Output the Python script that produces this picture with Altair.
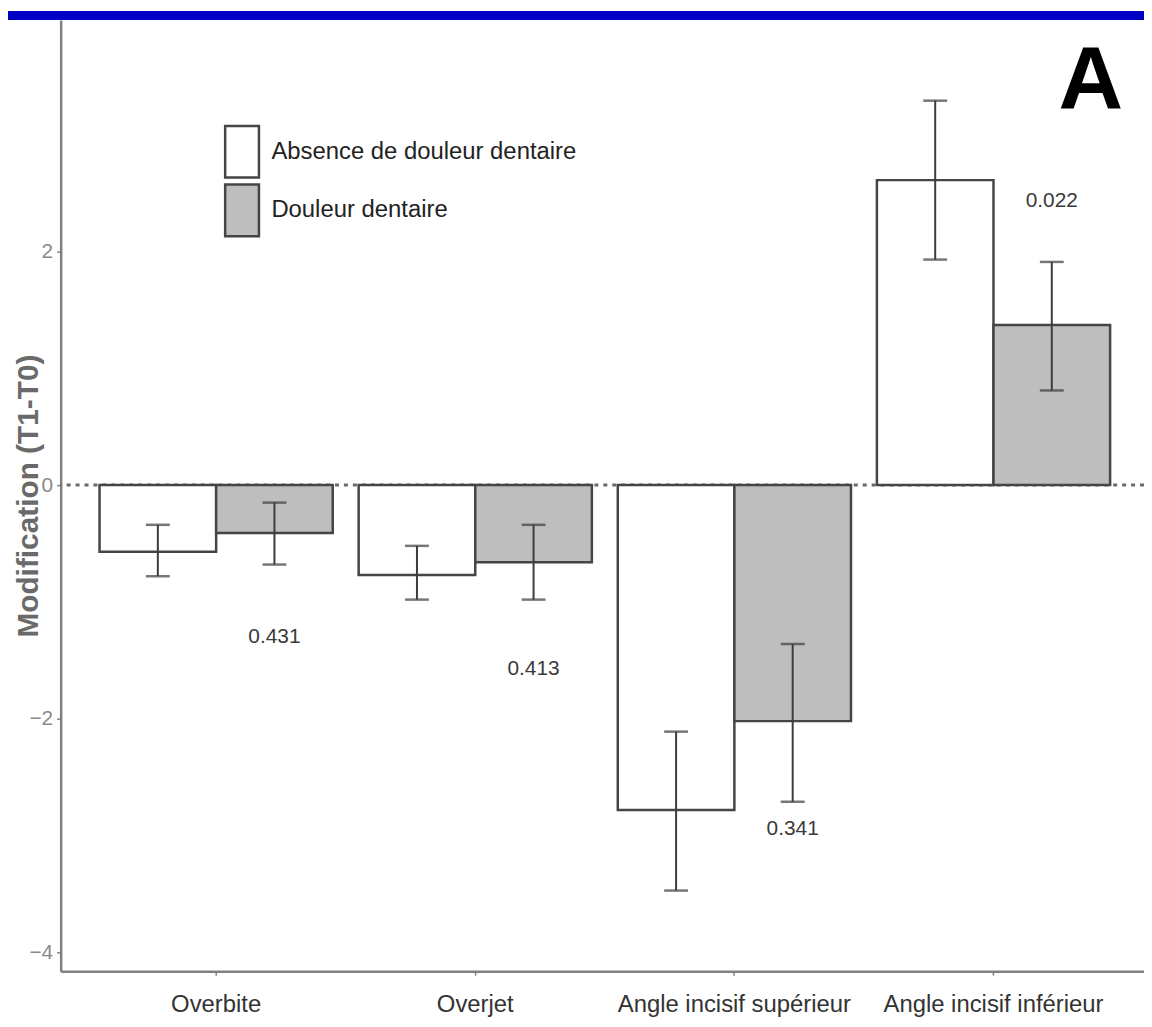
import altair as alt
import pandas as pd

# ---- data ----
categories = ["Overbite", "Overjet", "Angle incisif supérieur", "Angle incisif inférieur"]
groups = ["Absence de douleur dentaire", "Douleur dentaire"]
mean_absence = [-0.57, -0.77, -2.78, 2.61]
low_absence = [-0.78, -0.98, -3.47, 1.93]
high_absence = [-0.34, -0.52, -2.11, 3.29]
mean_douleur = [-0.41, -0.66, -2.02, 1.37]
low_douleur = [-0.68, -0.98, -2.71, 0.81]
high_douleur = [-0.15, -0.34, -1.36, 1.91]
p_values = ["0.431", "0.413", "0.341", "0.022"]
p_label_y = [-1.30, -1.57, -2.94, 2.43]
y_ticks = [-4, -2, 0, 2]
y_domain = [-4.16, 3.98]

rows = []
for i, c in enumerate(categories):
    rows.append(dict(cat=c, group=groups[0], mean=mean_absence[i], lo=low_absence[i], hi=high_absence[i]))
    rows.append(dict(cat=c, group=groups[1], mean=mean_douleur[i], lo=low_douleur[i], hi=high_douleur[i]))
df = pd.DataFrame(rows)
df_p = pd.DataFrame(dict(cat=categories, group=[groups[1]] * 4, p=p_values, py=p_label_y))

FONT = "Liberation Sans, Arial, sans-serif"
BLUE = "#0101C6"
W, H = 1090, 957

x_enc = alt.X(
    "cat:N", sort=categories,
    scale=alt.Scale(paddingInner=0.1, paddingOuter=0.15, range=[0, 1095]),
    axis=alt.Axis(title=None, labelAngle=0, labelFontSize=24, labelFont=FONT,
                  labelColor="#333333", domainColor="#808080", domainWidth=2.5,
                  tickColor="#808080", tickSize=4, tickWidth=1.5, labelPadding=18,
                  labelLimit=0, grid=False),
)
xo_enc = alt.XOffset("group:N", sort=groups,
                     scale=alt.Scale(domain=groups, paddingInner=0, paddingOuter=0))
y_scale = alt.Scale(domain=y_domain, nice=False, zero=False)
y_axis = alt.Axis(values=y_ticks, grid=False, labelFontSize=21, labelFont=FONT,
                  labelColor="#8a8a8a", domainColor="#808080", domainWidth=2.5,
                  tickColor="#808080", tickSize=4, tickWidth=1.5, labelPadding=4,
                  title="Modification (T1-T0)", titleFontSize=30, titleFontWeight="bold",
                  titleFont=FONT, titleColor="#6a6a6a",
                  titleX=-32, titleY=H / 2, titleAngle=270, titleAlign="center",
                  titleBaseline="middle")

base = alt.Chart(df)

frame = alt.Chart(pd.DataFrame({"k": [0]})).mark_rect(color=BLUE).encode(
    x=alt.value(-53), x2=alt.value(W), y=alt.value(-9), y2=alt.value(0)
)

zero = alt.Chart(pd.DataFrame({"z": [0]})).mark_rule(
    color="#6a6a6a", strokeWidth=3, strokeDash=[4, 5]
).encode(y=alt.Y("z:Q", scale=y_scale, axis=y_axis))

bars = base.mark_bar(stroke="#454545", strokeWidth=2.5).encode(
    x=x_enc, xOffset=xo_enc,
    y=alt.Y("mean:Q", scale=y_scale, axis=y_axis),
    y2=alt.datum(0),
    color=alt.Color(
        "group:N", sort=groups,
        scale=alt.Scale(domain=groups, range=["#FFFFFF", "#BEBEBE"]),
        legend=alt.Legend(
            title=None, orient="none", legendX=155, legendY=105,
            labelFontSize=24, labelFont=FONT, labelColor="#222222",
            labelOffset=2, rowPadding=-15, labelLimit=0,
            symbolType="M-0.654,-1H0.654V1H-0.654Z", symbolSize=2704,
            symbolStrokeColor="#454545", symbolStrokeWidth=2.5,
        ),
    ),
)

err = base.mark_rule(color="#3c3c3c", strokeWidth=2).encode(
    x=x_enc, xOffset=xo_enc, y=alt.Y("lo:Q", scale=y_scale, axis=y_axis), y2="hi:Q"
)
cap_lo = base.mark_tick(color="#3c3c3c", thickness=2.5, size=24).encode(
    x=x_enc, xOffset=xo_enc, y=alt.Y("lo:Q", scale=y_scale, axis=y_axis)
)
cap_hi = base.mark_tick(color="#3c3c3c", thickness=2.5, size=24).encode(
    x=x_enc, xOffset=xo_enc, y=alt.Y("hi:Q", scale=y_scale, axis=y_axis)
)

ptext = alt.Chart(df_p).mark_text(
    fontSize=21, font=FONT, color="#3a3a3a", baseline="middle", align="center"
).encode(
    x=x_enc, xOffset=xo_enc, y=alt.Y("py:Q", scale=y_scale, axis=y_axis), text="p:N"
)

chart = alt.layer(frame, zero, bars, err, cap_lo, cap_hi, ptext).properties(
    width=W, height=H,
    padding={"left": 53, "top": 9, "right": 0, "bottom": 45},
    autosize="none",
    background="#FFFFFF",
    title=alt.TitleParams(
        text="A", fontSize=90, fontWeight="bold", font=FONT,
        color="#000000", anchor="end", frame="group", baseline="top", offset=-118,
        dx=-21,
    ),
).configure_view(strokeWidth=0)

chart.save("out.html", embed_options={"renderer": "svg", "actions": False})
